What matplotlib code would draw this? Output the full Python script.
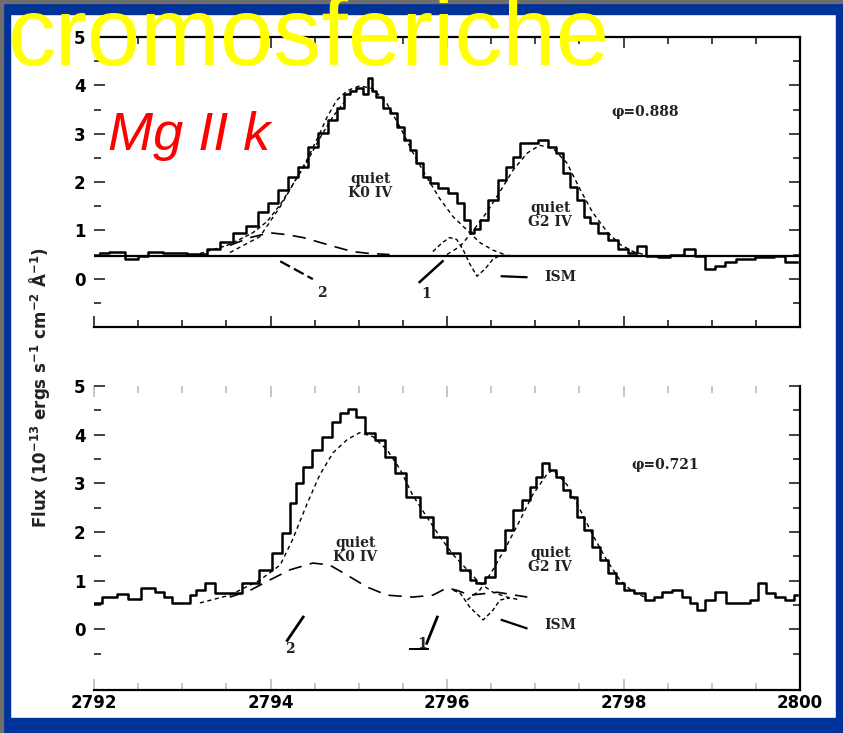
import matplotlib
matplotlib.use("Agg")
import matplotlib.pyplot as plt
from matplotlib.patches import Rectangle
from matplotlib.ticker import MultipleLocator, FixedLocator

# ---- phase 0.888 (upper panel) ----
obs1_w = [2792.07, 2792.26, 2792.44, 2792.56, 2792.67, 2792.90, 2793.20, 2793.35, 2793.51,
          2793.65, 2793.80, 2793.92, 2794.03, 2794.14, 2794.25, 2794.37, 2794.48, 2794.59,
          2794.71, 2794.79, 2794.87, 2794.93, 2795.01, 2795.09, 2795.13, 2795.16, 2795.24,
          2795.32, 2795.39, 2795.47, 2795.55, 2795.61, 2795.69, 2795.77, 2795.84, 2795.95,
          2796.07, 2796.15, 2796.23, 2796.28, 2796.34, 2796.41, 2796.52, 2796.63, 2796.71,
          2796.79, 2796.86, 2796.97, 2797.09, 2797.20, 2797.28, 2797.36, 2797.43, 2797.51,
          2797.59, 2797.65, 2797.77, 2797.88, 2797.99, 2798.11, 2798.19, 2798.33, 2798.45,
          2798.61, 2798.75, 2798.87, 2798.98, 2799.09, 2799.21, 2799.35, 2799.63, 2799.77,
          2799.89, 2799.97]
obs1_f = [0.54, 0.56, 0.40, 0.46, 0.56, 0.54, 0.52, 0.61, 0.75,
          0.95, 1.08, 1.37, 1.57, 1.84, 2.10, 2.31, 2.72, 3.01,
          3.28, 3.54, 3.83, 3.89, 3.95, 3.83, 4.16, 3.89, 3.75,
          3.54, 3.42, 3.13, 2.86, 2.66, 2.39, 2.10, 1.98, 1.88,
          1.78, 1.57, 1.22, 0.95, 1.02, 1.22, 1.63, 2.04, 2.31,
          2.52, 2.80, 2.80, 2.86, 2.72, 2.60, 2.19, 1.90, 1.63,
          1.28, 1.16, 0.95, 0.81, 0.61, 0.54, 0.67, 0.46, 0.44,
          0.50, 0.61, 0.46, 0.20, 0.26, 0.34, 0.40, 0.44, 0.46,
          0.34, 0.34]

fit1_w = [2793.20, 2793.51, 2793.65, 2793.80, 2793.96, 2794.11, 2794.25, 2794.41, 2794.56,
          2794.71, 2794.87]
fit1_f = [0.52, 0.69, 0.81, 0.95, 1.18, 1.53, 1.94, 2.41, 2.91, 3.36, 3.73]

k0_1_w = [2793.54, 2793.88, 2794.11, 2794.22, 2794.41, 2794.56, 2794.64, 2794.75, 2794.87,
          2795.01, 2795.16, 2795.32, 2795.47, 2795.61, 2795.77, 2795.92, 2796.07, 2796.23,
          2796.37, 2796.52, 2796.68, 2796.83]
k0_1_f = [0.54, 0.87, 1.49, 1.84, 2.45, 3.01, 3.34, 3.69, 3.89,
          3.99, 3.93, 3.62, 3.13, 2.62, 2.10, 1.65, 1.28, 1.00,
          0.75, 0.59, 0.48, 0.46]

em1_w = [2793.54, 2793.77, 2793.99, 2794.19, 2794.37, 2794.56, 2794.75, 2794.93, 2795.13, 2795.35]
em1_f = [0.69, 0.85, 0.95, 0.91, 0.85, 0.75, 0.65, 0.56, 0.52, 0.50]

g2_1_w = [2796.00, 2796.15, 2796.29, 2796.45, 2796.60, 2796.75, 2796.91, 2797.05, 2797.20,
          2797.36, 2797.51, 2797.65, 2797.81, 2797.96, 2798.11, 2798.27]
g2_1_f = [0.50, 0.67, 0.98, 1.37, 1.80, 2.25, 2.60, 2.76, 2.70,
          2.39, 1.84, 1.37, 0.98, 0.71, 0.56, 0.48]

ism1_w = [2795.84, 2795.95, 2796.03, 2796.11, 2796.18, 2796.26, 2796.34, 2796.43, 2796.52,
          2796.60, 2796.71]
ism1_f = [0.56, 0.75, 0.85, 0.81, 0.61, 0.30, 0.05, 0.20, 0.40, 0.48, 0.48]

cont1 = 0.46

# ---- phase 0.721 (lower panel) ----
obs2_w = [2792.00, 2792.18, 2792.33, 2792.44, 2792.63, 2792.75, 2792.83, 2792.94, 2793.05,
          2793.12, 2793.20, 2793.31, 2793.43, 2793.58, 2793.77, 2793.96, 2794.07, 2794.19,
          2794.25, 2794.33, 2794.41, 2794.53, 2794.64, 2794.75, 2794.82, 2794.93, 2795.01,
          2795.13, 2795.24, 2795.35, 2795.47, 2795.61, 2795.77, 2795.92, 2796.07, 2796.23,
          2796.29, 2796.37, 2796.49, 2796.60, 2796.71, 2796.79, 2796.91, 2796.97, 2797.05,
          2797.11, 2797.20, 2797.28, 2797.36, 2797.43, 2797.51, 2797.59, 2797.70, 2797.77,
          2797.88, 2797.96, 2798.04, 2798.19, 2798.30, 2798.38, 2798.49, 2798.61, 2798.72,
          2798.79, 2798.87, 2798.98, 2799.09, 2799.24, 2799.40, 2799.47, 2799.58, 2799.66,
          2799.77, 2799.89, 2799.97]
obs2_f = [0.54, 0.66, 0.72, 0.62, 0.85, 0.76, 0.66, 0.54, 0.54,
          0.70, 0.80, 0.95, 0.74, 0.74, 0.95, 1.22, 1.57, 1.98,
          2.60, 3.01, 3.34, 3.69, 3.96, 4.25, 4.45, 4.52, 4.37,
          4.04, 3.90, 3.55, 3.22, 2.72, 2.31, 1.90, 1.57, 1.22,
          1.01, 0.95, 1.07, 1.63, 2.04, 2.45, 2.66, 2.93, 3.13,
          3.42, 3.28, 3.13, 2.87, 2.72, 2.31, 2.04, 1.69, 1.42,
          1.15, 0.95, 0.80, 0.74, 0.60, 0.66, 0.76, 0.80, 0.66,
          0.54, 0.39, 0.60, 0.76, 0.54, 0.54, 0.60, 0.95, 0.74,
          0.66, 0.60, 0.70]

k0_2_w = [2793.20, 2793.54, 2793.88, 2794.11, 2794.25, 2794.41, 2794.56, 2794.71, 2794.87,
          2795.01, 2795.16, 2795.32, 2795.47, 2795.61, 2795.77, 2795.92, 2796.07, 2796.23,
          2796.37, 2796.52, 2796.68, 2796.83]
k0_2_f = [0.54, 0.70, 1.01, 1.32, 1.84, 2.56, 3.18, 3.63, 3.90,
          4.04, 3.96, 3.69, 3.28, 2.76, 2.31, 1.90, 1.53, 1.22,
          0.95, 0.76, 0.66, 0.60]

em2_w = [2793.54, 2793.77, 2793.99, 2794.22, 2794.48, 2794.67, 2794.87, 2795.09, 2795.32,
         2795.61, 2795.84, 2796.00, 2796.11, 2796.26, 2796.57, 2796.91]
em2_f = [0.66, 0.80, 1.01, 1.22, 1.36, 1.32, 1.11, 0.87, 0.70,
         0.66, 0.70, 0.85, 0.80, 0.70, 0.76, 0.66]

g2_2_w = [2796.23, 2796.37, 2796.52, 2796.68, 2796.83, 2796.97, 2797.13, 2797.20, 2797.36,
          2797.51, 2797.65, 2797.81, 2797.96, 2798.11, 2798.27]
g2_2_f = [0.60, 0.80, 1.22, 1.73, 2.25, 2.76, 3.18, 3.28, 2.97,
          2.45, 1.94, 1.42, 1.01, 0.76, 0.64]

ism2_w = [2796.07, 2796.15, 2796.26, 2796.41, 2796.52, 2796.60, 2796.71]
ism2_f = [0.80, 0.74, 0.45, 0.19, 0.39, 0.60, 0.64]

x_ticks = [2792, 2794, 2796, 2798, 2800]
y_ticks = [0, 1, 2, 3, 4, 5]

BLUE = '#003399'
TXT = dict(family='DejaVu Serif', fontweight='bold', fontsize=10, color='#222222')

fig = plt.figure(figsize=(8.43, 7.33), dpi=100, facecolor='white')

# blue frame around the slide
W, H = 843.0, 733.0
for (x0, y0, w, h) in [(0, 0, 10, 733), (836, 0, 7, 733), (0, 0, 843, 14), (0, 718, 843, 15)]:
    fig.patches.append(Rectangle((x0 / W, 1 - (y0 + h) / H), w / W, h / H,
                                 transform=fig.transFigure, color=BLUE, zorder=0.5))
fig.patches.append(Rectangle((0, 1 - 3 / H), 1, 3 / H, transform=fig.transFigure,
                             color='#6e6e6e', zorder=0.6))
fig.patches.append(Rectangle((0, 0), 3 / W, 1, transform=fig.transFigure,
                             color='#6e6e6e', zorder=0.6))

ax1 = fig.add_axes([94 / W, 1 - 327 / H, 706 / W, 290 / H])
ax2 = fig.add_axes([94 / W, 1 - 690 / H, 706 / W, 304 / H])


def style(ax, ylo):
    ax.set_facecolor('none')
    ax.set_xlim(2792, 2800)
    ax.set_ylim(ylo, 5)
    ax.xaxis.set_major_locator(FixedLocator(x_ticks))
    ax.xaxis.set_minor_locator(MultipleLocator(0.5))
    ax.yaxis.set_major_locator(FixedLocator(y_ticks))
    ax.yaxis.set_minor_locator(FixedLocator([-0.5, 0.5, 1.5, 2.5, 3.5, 4.5]))
    ax.tick_params(which='both', direction='in', top=True, right=True, width=1.2,
                   labelsize=12, color='#222222')
    ax.tick_params(which='major', length=8)
    ax.tick_params(which='minor', length=5)
    ax.tick_params(axis='y', which='major', pad=6)
    ax.tick_params(axis='x', which='major', pad=3)
    ax.spines['left'].set_visible(False)
    for s in ax.spines.values():
        s.set_linewidth(1.6)
    for lab in ax.get_yticklabels() + ax.get_xticklabels():
        lab.set_fontweight('bold')


style(ax1, -1)
style(ax2, -1.25)
ax1.tick_params(labelbottom=False)
ax2.spines['top'].set_visible(False)
ax2.tick_params(axis='x', which='both', top=True, color='#bbbbbb')
ax2.tick_params(axis='x', which='both', bottom=True)

# upper panel
ax1.axhline(cont1, color='black', lw=1.6)
ax1.plot(obs1_w, obs1_f, drawstyle='steps-mid', color='black', lw=1.8)
ax1.plot(fit1_w, fit1_f, color='black', lw=1.0, ls=(0, (3, 2)))
ax1.plot(k0_1_w, k0_1_f, color='black', lw=1.0, ls=(0, (3, 2.5)))
ax1.plot(em1_w, em1_f, color='black', lw=1.2, ls=(0, (8, 5)))
ax1.plot(g2_1_w, g2_1_f, color='black', lw=1.0, ls=(0, (3, 2.5)))
ax1.plot(ism1_w, ism1_f, color='black', lw=1.0, ls=(0, (3, 2)))
ax1.plot([2794.11, 2794.48], [0.36, -0.01], color='black', lw=1.6, ls=(0, (5, 2)))
ax1.plot([2795.69, 2795.95], [-0.07, 0.36], color='black', lw=1.8)
ax1.plot([2796.62, 2796.90], [0.05, 0.03], color='black', lw=1.6)
ax1.text(2794.58, -0.30, '2', ha='center', va='center', **TXT)
ax1.text(2795.76, -0.32, '1', ha='center', va='center', **TXT)
ax1.text(2797.10, 0.04, 'ISM', ha='left', va='center', **TXT)
ax1.text(2795.13, 1.92, 'quiet\nK0 IV', ha='center', va='center', linespacing=1.0, **TXT)
ax1.text(2797.17, 1.32, 'quiet\nG2 IV', ha='center', va='center', linespacing=1.0, **TXT)
ax1.text(2798.24, 3.44, 'φ=0.888', ha='center', va='center', **TXT)

# lower panel
ax2.plot(obs2_w, obs2_f, drawstyle='steps-mid', color='black', lw=1.8)
ax2.plot(k0_2_w, k0_2_f, color='black', lw=1.0, ls=(0, (3, 2.5)))
ax2.plot(em2_w, em2_f, color='black', lw=1.2, ls=(0, (8, 5)))
ax2.plot(g2_2_w, g2_2_f, color='black', lw=1.0, ls=(0, (3, 2.5)))
ax2.plot(ism2_w, ism2_f, color='black', lw=1.0, ls=(0, (3, 2)))
ax2.plot([2794.37, 2794.19], [0.25, -0.23], color='black', lw=2.0)
ax2.plot([2795.89, 2795.77], [0.25, -0.29], color='black', lw=2.0)
ax2.plot([2795.58, 2795.79], [-0.40, -0.40], color='black', lw=1.4)
ax2.plot([2796.62, 2796.90], [0.19, 0.02], color='black', lw=1.6)
ax2.text(2794.22, -0.40, '2', ha='center', va='center', **TXT)
ax2.text(2795.72, -0.30, '1', ha='center', va='center', **TXT)
ax2.text(2797.10, 0.08, 'ISM', ha='left', va='center', **TXT)
ax2.text(2794.96, 1.63, 'quiet\nK0 IV', ha='center', va='center', linespacing=1.0, **TXT)
ax2.text(2797.17, 1.42, 'quiet\nG2 IV', ha='center', va='center', linespacing=1.0, **TXT)
ax2.text(2798.47, 3.38, 'φ=0.721', ha='center', va='center', **TXT)

fig.text(40 / W, 1 - 388 / H,
         r'Flux (10$^{\mathbf{-13}}$ ergs s$^{\mathbf{-1}}$ cm$^{\mathbf{-2}}$ Å$^{\mathbf{-1}}$)',
         rotation=90, ha='center', va='center', fontsize=12, fontweight='bold', color='#222222')

fig.text(8 / W, 1 - 65 / H, 'cromosferiche', family='Liberation Sans', fontsize=69,
         color='#ffff00', ha='left', va='baseline', zorder=5)
fig.text(108 / W, 1 - 150 / H, 'Mg II k', family='Liberation Sans', style='italic',
         fontsize=39, color='#ff0000', ha='left', va='baseline', zorder=5)

fig.savefig('out.png', dpi=100, facecolor='white')
